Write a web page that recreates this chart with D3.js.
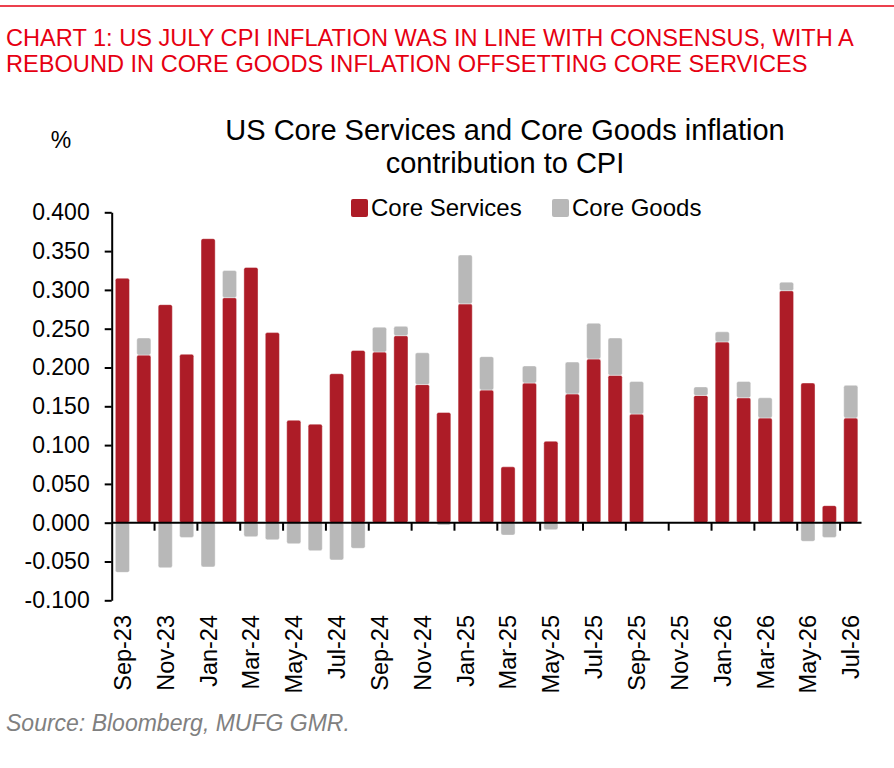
<!DOCTYPE html>
<html>
<head>
    <title>US Core Services and Core Goods</title>
    <script src="https://d3js.org/d3.v7.min.js"></script>
    <style type="text/css">
        body{ margin:0; background:#fff; }
        svg text{ font-family: "Liberation Sans", Arial, sans-serif; }
        .axis path,
        .axis line{
            fill: none;
            stroke: black;
            stroke-width: 2px;
        }
        .axis text{
            font-size: 23px;
            fill: black;
        }
    </style>
</head>
<body>
<script>
    var w = 894;
    var h = 768;

    var months = ["Sep-23","Oct-23","Nov-23","Dec-23","Jan-24","Feb-24","Mar-24","Apr-24","May-24","Jun-24",
                  "Jul-24","Aug-24","Sep-24","Oct-24","Nov-24","Dec-24","Jan-25","Feb-25","Mar-25","Apr-25",
                  "May-25","Jun-25","Jul-25","Aug-25","Sep-25","Oct-25","Nov-25","Dec-25","Jan-26","Feb-26",
                  "Mar-26","Apr-26","May-26","Jun-26","Jul-26"];
    var coreServices = [0.315, 0.216, 0.281, 0.217, 0.366, 0.290, 0.329, 0.245, 0.132, 0.127,
                        0.192, 0.222, 0.220, 0.241, 0.178, 0.142, 0.282, 0.171, 0.072, 0.180,
                        0.105, 0.166, 0.211, 0.190, 0.140, null, null, 0.164, 0.233, 0.161,
                        0.135, 0.299, 0.180, 0.022, 0.135];
    var coreGoods = [-0.064, 0.022, -0.058, -0.019, -0.057, 0.035, -0.018, -0.022, -0.027, -0.036,
                     -0.048, -0.033, 0.032, 0.012, 0.041, -0.003, 0.063, 0.043, -0.016, 0.022,
                     -0.009, 0.041, 0.046, 0.048, 0.042, null, null, 0.011, 0.013, 0.021,
                     0.026, 0.011, -0.024, -0.019, 0.042];
    var yTicks = [-0.1, -0.05, 0, 0.05, 0.1, 0.15, 0.2, 0.25, 0.3, 0.35, 0.4];
    var seriesNames = ["Core Services", "Core Goods"];
    var colors = ["#AD1C27", "#B8B8B8"];

    // plot area edges
    var pLeft = 111.7, pRight = 861.5, pTop = 212.3, pBottom = 600.3;

    var svg = d3.select("body")
                .append("svg")
                .attr("width", w)
                .attr("height", h);

    // header
    svg.append("line")
        .attr("x1", 0).attr("x2", w)
        .attr("y1", 6).attr("y2", 6)
        .attr("stroke", "#E60012")
        .attr("stroke-width", 1.5);
    svg.selectAll("text.head")
        .data(["CHART 1: US JULY CPI INFLATION WAS IN LINE WITH CONSENSUS, WITH A",
               "REBOUND IN CORE GOODS INFLATION OFFSETTING CORE SERVICES"])
        .enter()
        .append("text")
        .attr("class", "head")
        .attr("x", 6)
        .attr("y", function(d, i){ return 45.5 + i*26; })
        .attr("font-size", "23.6px")
        .attr("fill", "#E60012")
        .text(function(d){ return d; });

    // chart title
    svg.selectAll("text.title")
        .data(["US Core Services and Core Goods inflation", "contribution to CPI"])
        .enter()
        .append("text")
        .attr("class", "title")
        .attr("x", 505)
        .attr("y", function(d, i){ return 139.5 + i*33; })
        .attr("text-anchor", "middle")
        .attr("font-size", "29px")
        .attr("fill", "black")
        .text(function(d){ return d; });

    svg.append("text")
        .attr("x", 61)
        .attr("y", 148)
        .attr("text-anchor", "middle")
        .attr("font-size", "23px")
        .text("%");

    var xScale = d3.scaleBand()
                   .domain(months)
                   .range([pLeft, pRight])
                   .paddingInner(0.34)
                   .paddingOuter(0.17);
    var yScale = d3.scaleLinear()
                   .domain([-0.1, 0.4])
                   .range([pBottom, pTop]);

    var rows = months.map(function(m, i){
        return {month: m, s: coreServices[i], g: coreGoods[i]};
    }).filter(function(d){ return d.s !== null; });

    var stack = d3.stack()
                  .keys(["s", "g"])
                  .offset(d3.stackOffsetDiverging);
    var layers = stack(rows);

    svg.selectAll("g.layer")
        .data(layers)
        .enter()
        .append("g")
        .attr("class", "layer")
        .attr("fill", function(d, i){ return colors[i]; })
        .selectAll("rect")
        .data(function(d){ return d; })
        .enter()
        .append("rect")
        .attr("x", function(d){ return xScale(d.data.month); })
        .attr("width", xScale.bandwidth())
        .attr("y", function(d){ return yScale(d[1]); })
        .attr("height", function(d){ return Math.max(0, yScale(d[0]) - yScale(d[1])); })
        .attr("rx", 2)
        .attr("stroke", "#fff")
        .attr("stroke-opacity", 0.5)
        .attr("stroke-width", 0.8);

    // y axis
    var yAxis = d3.axisLeft(yScale)
                  .tickValues(yTicks)
                  .tickSize(7)
                  .tickSizeOuter(0)
                  .tickPadding(15)
                  .tickFormat(d3.format(".3f"));
    svg.append("g")
        .attr("class", "axis")
        .attr("transform", "translate(" + pLeft + ",0)")
        .call(yAxis)
        .selectAll("text")
        .text(function(d){ return d < 0 ? "-" + d3.format(".3f")(-d) : d3.format(".3f")(d); });

    // x axis on zero line, ticks every two months between categories
    var step = xScale.step();
    var boundaries = d3.range(2, months.length + 1, 2).map(function(i){ return pLeft + i*step; });
    var zeroY = yScale(0);
    svg.append("line")
        .attr("x1", pLeft).attr("x2", pRight)
        .attr("y1", zeroY).attr("y2", zeroY)
        .attr("stroke", "black")
        .attr("stroke-width", 2);
    svg.selectAll("line.xtick")
        .data(boundaries)
        .enter()
        .append("line")
        .attr("class", "xtick")
        .attr("x1", function(d){ return d; })
        .attr("x2", function(d){ return d; })
        .attr("y1", zeroY)
        .attr("y2", zeroY + 8)
        .attr("stroke", "black")
        .attr("stroke-width", 2);

    svg.selectAll("text.xlab")
        .data(months.filter(function(m, i){ return i % 2 === 0; }))
        .enter()
        .append("text")
        .attr("class", "xlab")
        .attr("transform", function(d){
            return "translate(" + (xScale(d) + xScale.bandwidth()/2) + ",615) rotate(-90)";
        })
        .attr("dy", "0.36em")
        .attr("text-anchor", "end")
        .attr("font-size", "23.5px")
        .text(function(d){ return d; });

    // legend
    var legX = [351, 552];
    var legend = svg.selectAll("g.legend")
        .data(seriesNames)
        .enter()
        .append("g")
        .attr("class", "legend")
        .attr("transform", function(d, i){ return "translate(" + legX[i] + ",199)"; });
    legend.append("rect")
        .attr("width", 17)
        .attr("height", 18)
        .attr("rx", 2)
        .attr("fill", function(d, i){ return colors[i]; });
    legend.append("text")
        .attr("x", 20)
        .attr("y", 16.5)
        .attr("font-size", "24px")
        .text(function(d){ return d; });

    svg.append("text")
        .attr("x", 6)
        .attr("y", 731)
        .attr("font-size", "23px")
        .attr("font-style", "italic")
        .attr("fill", "#808080")
        .text("Source: Bloomberg, MUFG GMR.");
</script>
</body>
</html>
